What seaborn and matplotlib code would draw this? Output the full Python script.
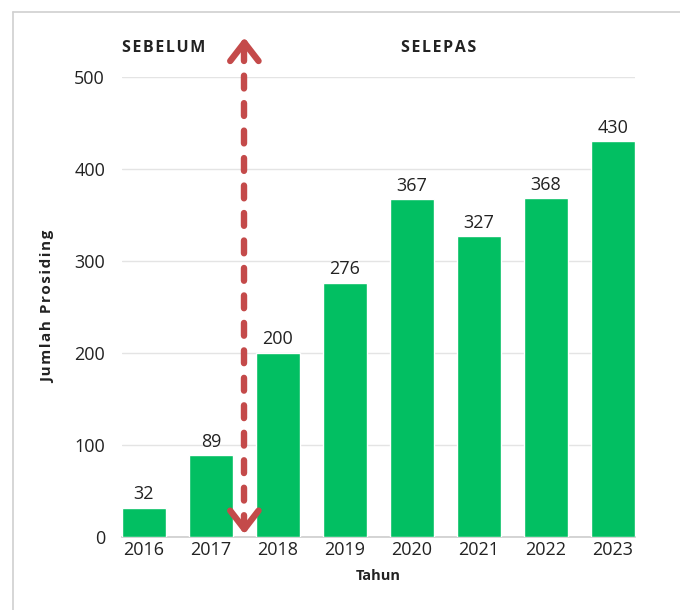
import pandas as pd
import seaborn as sns
import matplotlib.pyplot as plt
from matplotlib.lines import Line2D

# data
years = ["2016", "2017", "2018", "2019", "2020", "2021", "2022", "2023"]
counts = [32, 89, 200, 276, 367, 327, 368, 430]
y_ticks = [0, 100, 200, 300, 400, 500]

df = pd.DataFrame({"Tahun": years, "Jumlah": counts})

sns.set_theme(style="white")
plt.rcParams["font.family"] = ["Open Sans", "DejaVu Sans"]

GREEN = "#02bf62"
RED = "#c44a4a"
TXT = "#222222"
HS = "\u200a"  # hair space for letter spacing

fig = plt.figure(figsize=(6.8, 6.1), dpi=100)
ax = fig.add_axes([0.179, 0.1197, 0.755, 0.7541])

sns.barplot(data=df, x="Tahun", y="Jumlah", color=GREEN, width=0.65,
            saturation=1, ax=ax, zorder=3)
ax.set_xlim(-0.33, 7.33)
ax.set_ylim(0, 500)
ax.set_yticks(y_ticks)

for i, v in enumerate(counts):
    ax.text(i, v + 5, str(v), ha="center", va="bottom", fontsize=13, color=TXT)

ax.grid(axis="y", color="#e4e4e4", linewidth=1, zorder=0)
for s in ["top", "right", "left"]:
    ax.spines[s].set_visible(False)
ax.spines["bottom"].set_color("#cfcfcf")
ax.tick_params(axis="both", length=0, labelsize=13, colors=TXT)
ax.tick_params(axis="y", pad=12)
ax.tick_params(axis="x", pad=3)

ax.set_xlabel("Tahun", fontsize=10.5, fontweight="bold", color=TXT, labelpad=7)
ax.set_ylabel(HS.join("Jumlah Prosiding"), fontsize=11, fontweight="bold",
              color=TXT, labelpad=14)

# before / after divider: dashed shaft plus two chevron heads
ax.plot([1.5, 1.5], [10, 536], color=RED, lw=4.6, dashes=(2.0, 2.3),
        dash_capstyle="round", clip_on=False, zorder=5)
head = dict(arrowstyle="->,head_length=1.1,head_width=0.85", color=RED,
            lw=4.6, capstyle="round", joinstyle="round")
ax.annotate("", xy=(1.5, 546), xytext=(1.5, 526), arrowprops=head,
            annotation_clip=False, zorder=5)
ax.annotate("", xy=(1.5, 0), xytext=(1.5, 20), arrowprops=head,
            annotation_clip=False, zorder=5)

ax.text(0.3, 532, HS.join("SEBELUM"), ha="center", va="center", fontsize=11.5,
        fontweight="bold", color=TXT, clip_on=False)
ax.text(4.4, 532, HS.join("SELEPAS"), ha="center", va="center", fontsize=11.5,
        fontweight="bold", color=TXT, clip_on=False)

# thin frame lines at top and left edge
fig.add_artist(Line2D([13 / 680, 1], [1 - 12 / 610, 1 - 12 / 610],
                      color="#d0d0d0", lw=1.2))
fig.add_artist(Line2D([13 / 680, 13 / 680], [0, 1 - 12 / 610],
                      color="#d0d0d0", lw=1.2))

fig.savefig("out.png", dpi=100)
